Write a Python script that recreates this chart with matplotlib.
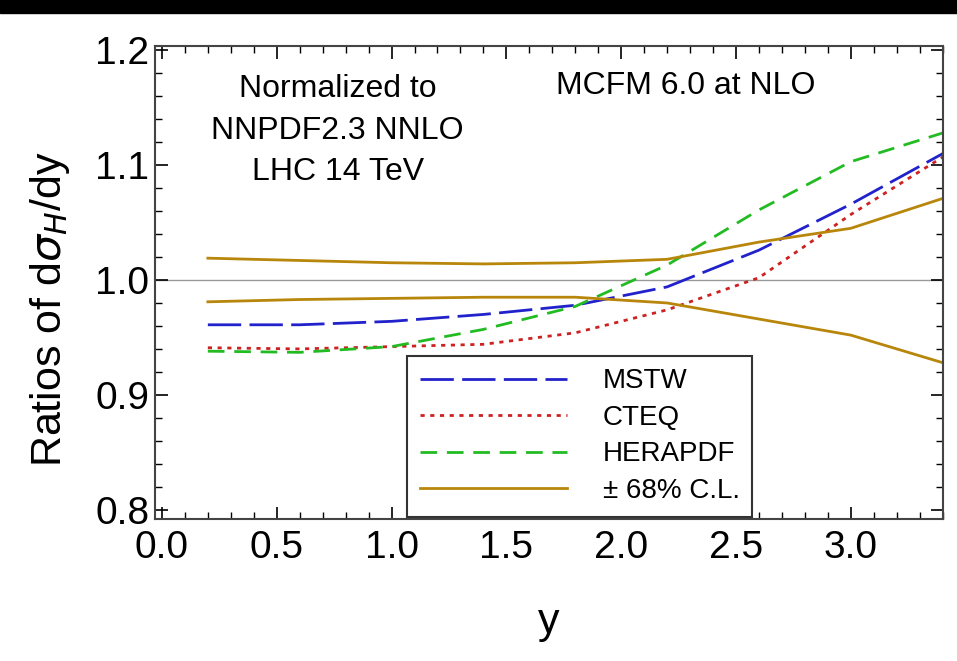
import matplotlib.pyplot as plt
from matplotlib.ticker import MultipleLocator

plt.rcParams['font.family'] = ['Liberation Sans', 'DejaVu Sans']
plt.rcParams['mathtext.fontset'] = 'dejavusans'

y_rap = [0.2, 0.6, 1.0, 1.4, 1.8, 2.2, 2.6, 3.0, 3.4]
mstw = [0.961, 0.961, 0.964, 0.970, 0.978, 0.994, 1.026, 1.066, 1.110]
cteq = [0.941, 0.940, 0.942, 0.944, 0.954, 0.974, 1.002, 1.057, 1.107]
herapdf = [0.938, 0.937, 0.942, 0.957, 0.977, 1.013, 1.061, 1.103, 1.128]
cl_up = [1.019, 1.017, 1.015, 1.014, 1.015, 1.018, 1.033, 1.045, 1.071]
cl_dn = [0.981, 0.983, 0.984, 0.985, 0.985, 0.980, 0.966, 0.952, 0.928]

brown = '#b8860b'

fig = plt.figure(figsize=(9.57, 6.61), dpi=100)
# black strip at the very top of the reference
fig.patches.append(plt.Rectangle((0, 0.981), 1, 0.019, transform=fig.transFigure,
                                 color='black', zorder=0))
ax = fig.add_axes([0.162, 0.215, 0.823, 0.715])

ax.axhline(1.0, color='#999999', lw=1.0, zorder=1)
ax.plot(y_rap, mstw, color='#2222cc', lw=2, dashes=(12, 3), label='MSTW')
ax.plot(y_rap, cteq, color='#cc2222', lw=2, dashes=(1.5, 2), label='CTEQ')
ax.plot(y_rap, herapdf, color='#22bb22', lw=2, dashes=(6, 3.5), label='HERAPDF')
ax.plot(y_rap, cl_up, color=brown, lw=2, label='± 68% C.L.')
ax.plot(y_rap, cl_dn, color=brown, lw=2)

ax.set_xlim(-0.03, 3.4)
ax.set_ylim(0.792, 1.2035)
ax.xaxis.set_major_locator(MultipleLocator(0.5))
ax.xaxis.set_minor_locator(MultipleLocator(0.1))
ax.yaxis.set_major_locator(MultipleLocator(0.1))
ax.yaxis.set_minor_locator(MultipleLocator(0.02))
ax.xaxis.set_major_formatter(lambda v, p: f'{v:.1f}')
ax.yaxis.set_major_formatter(lambda v, p: f'{v:.1f}')
ax.tick_params(which='both', direction='in', top=True, right=True, labelsize=28)
ax.tick_params(axis='x', pad=8)
ax.tick_params(axis='y', pad=4)
ax.tick_params(which='major', length=9, width=1.2)
ax.tick_params(which='minor', length=5, width=1)
for s in ax.spines.values():
    s.set_linewidth(1.5)
    s.set_color('#444444')

ax.set_xlabel('y', fontsize=31, labelpad=26)
ax.set_ylabel(r'Ratios of d$\sigma_H$/dy', fontsize=31)
ax.yaxis.set_label_coords(-0.105, 0.444)

ax.text(0.765, 1.130, 'Normalized to\nNNPDF2.3 NNLO\nLHC 14 TeV', ha='center', va='center',
        fontsize=23, linespacing=1.5)
ax.text(2.28, 1.169, 'MCFM 6.0 at NLO', ha='center', va='center', fontsize=23)

leg = ax.legend(loc='lower left', bbox_to_anchor=(0.32, 0.005), fontsize=20,
                handlelength=5.3, handletextpad=1.3, labelspacing=0.38,
                fancybox=False, framealpha=1, edgecolor='#333333',
                borderpad=0.45, borderaxespad=0)
leg.get_frame().set_linewidth(1.5)

fig.savefig('out.png', dpi=100)
